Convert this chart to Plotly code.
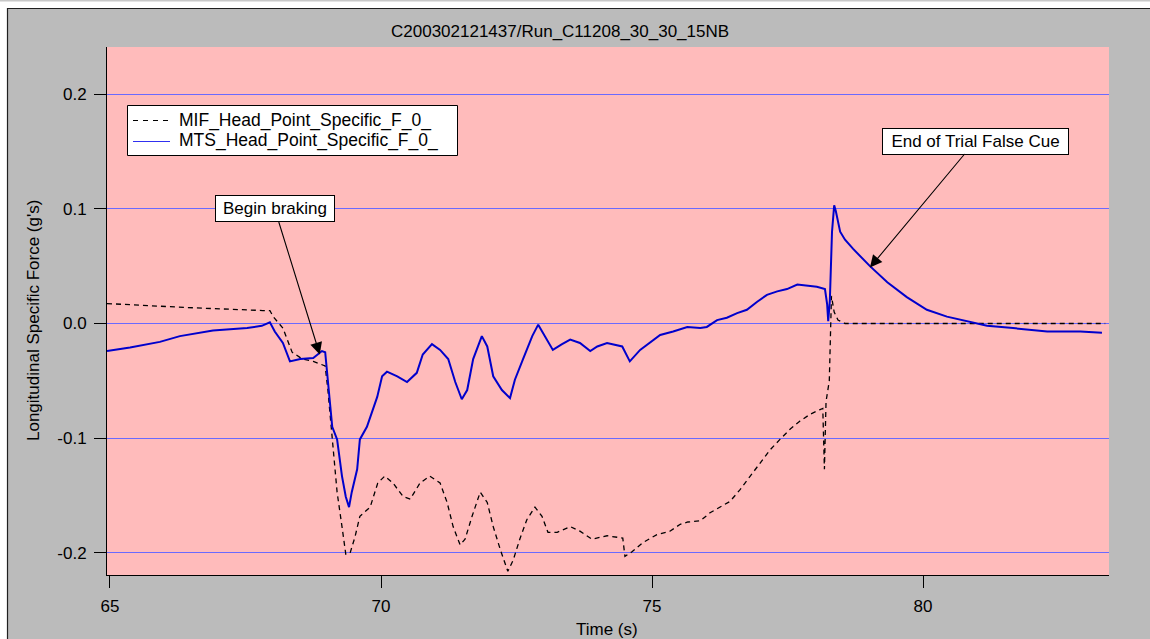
import plotly.graph_objects as go

# ---------------- data ----------------
mif_t = [64.945, 66.38, 67.82, 67.95, 68.01, 68.19, 68.36, 68.55, 68.75, 68.97, 69.02, 69.10,
         69.19, 69.28, 69.35, 69.43, 69.52, 69.61, 69.80, 69.94, 70.07, 70.22, 70.41,
         70.54, 70.72, 70.90, 71.09, 71.22, 71.33, 71.46, 71.55, 71.68, 71.83, 71.96,
         72.07, 72.20, 72.34, 72.44, 72.56, 72.69, 72.84, 72.97, 73.08, 73.25, 73.49,
         73.67, 73.89, 74.17, 74.46, 74.50, 74.63, 74.83, 75.09, 75.33, 75.52, 75.66,
         75.89, 76.07, 76.25, 76.44, 76.62, 76.81, 76.99, 77.18, 77.36, 77.55, 77.73,
         77.92, 78.10, 78.15, 78.18, 78.21, 78.27, 78.31, 78.36, 78.43, 78.56, 83.36]
mif_v = [0.0174, 0.014, 0.0113, 0.0113, 0.006, -0.004, -0.025, -0.031, -0.033, -0.037, -0.058, -0.098,
         -0.147, -0.177, -0.201, -0.200, -0.186, -0.168, -0.160, -0.139, -0.133, -0.139, -0.151,
         -0.153, -0.139, -0.133, -0.139, -0.156, -0.177, -0.193, -0.188, -0.168, -0.147, -0.156,
         -0.177, -0.197, -0.216, -0.206, -0.188, -0.171, -0.160, -0.168, -0.182, -0.182, -0.177,
         -0.181, -0.188, -0.185, -0.187, -0.203, -0.199, -0.191, -0.184, -0.181, -0.175, -0.173,
         -0.172, -0.165, -0.160, -0.155, -0.145, -0.133, -0.121, -0.110, -0.101, -0.092, -0.085,
         -0.079, -0.075, -0.074, -0.127, -0.068, -0.050, 0.024, 0.010, 0.003, 0.000, 0.000]

mts_t = [64.945, 65.37, 65.92, 66.29, 66.90, 67.53, 67.80, 67.95, 68.04, 68.19, 68.32, 68.51,
         68.75, 68.91, 68.97, 69.02, 69.10, 69.19, 69.28, 69.35, 69.41, 69.46, 69.56,
         69.61, 69.74, 69.93, 70.02, 70.11, 70.30, 70.48, 70.66, 70.77, 70.94, 71.09,
         71.24, 71.37, 71.49, 71.59, 71.70, 71.86, 71.96, 72.07, 72.23, 72.38, 72.47,
         72.62, 72.79, 72.90, 73.03, 73.17, 73.34, 73.49, 73.67, 73.86, 73.99, 74.17,
         74.45, 74.50, 74.59, 74.78, 74.96, 75.15, 75.39, 75.65, 75.89, 76.01, 76.20,
         76.38, 76.57, 76.75, 76.94, 77.12, 77.31, 77.49, 77.68, 77.86, 78.04, 78.19,
         78.23, 78.25, 78.28, 78.32, 78.36, 78.39, 78.43, 78.47, 78.56, 78.71, 79.02,
         79.34, 79.70, 80.07, 80.44, 80.81, 81.18, 81.66, 82.29, 82.90, 83.30]
mts_v = [-0.024, -0.021, -0.016, -0.011, -0.006, -0.004, -0.002, 0.001, -0.007, -0.017, -0.033, -0.031,
         -0.030, -0.024, -0.025, -0.049, -0.090, -0.101, -0.133, -0.151, -0.160, -0.147, -0.127,
         -0.101, -0.090, -0.064, -0.046, -0.042, -0.046, -0.051, -0.043, -0.027, -0.018, -0.023,
         -0.031, -0.051, -0.066, -0.058, -0.031, -0.011, -0.020, -0.046, -0.058, -0.065, -0.049,
         -0.031, -0.011, -0.001, -0.012, -0.023, -0.018, -0.014, -0.017, -0.024, -0.020, -0.017,
         -0.020, -0.025, -0.033, -0.023, -0.017, -0.010, -0.007, -0.003, -0.004, -0.003, 0.003,
         0.005, 0.009, 0.012, 0.019, 0.025, 0.028, 0.030, 0.034, 0.033, 0.032, 0.030,
         0.017, 0.002, 0.020, 0.080, 0.103, 0.098, 0.088, 0.080, 0.073, 0.065, 0.050,
         0.036, 0.023, 0.012, 0.006, 0.002, -0.002, -0.004, -0.007, -0.007, -0.008]

x_ticks = [65, 70, 75, 80]
y_ticks = [-0.2, -0.1, 0.0, 0.1, 0.2]

title_text = "C200302121437/Run_C11208_30_30_15NB"
x_title = "Time (s)"
y_title = "Longitudinal Specific Force (g's)"
mif_name = "MIF_Head_Point_Specific_F_0_"
mts_name = "MTS_Head_Point_Specific_F_0_"

# ---------------- figure ----------------
FONT = "Liberation Sans, Arial, sans-serif"
W, H = 1150, 639
L, R, T, B = 107, 41, 47, 64
PW, PH = W - L - R, H - T - B
MIF_COL, MTS_COL = "black", "#0000CC"


def px(xp):
    return (xp - L) / PW


def py(yp):
    return (H - B - yp) / PH


fig = go.Figure()
fig.add_trace(go.Scatter(x=mif_t, y=mif_v, mode="lines", name=mif_name, showlegend=False,
                         line=dict(color=MIF_COL, width=1.3, dash="5px,4px")))
fig.add_trace(go.Scatter(x=mts_t, y=mts_v, mode="lines", name=mts_name, showlegend=False,
                         line=dict(color=MTS_COL, width=2.0)))

shapes = [
    # outer frame
    dict(type="rect", xref="paper", yref="paper", x0=px(-2), x1=px(1152), y0=py(-2), y1=py(8),
         fillcolor="white", line_width=0, layer="above"),
    dict(type="rect", xref="paper", yref="paper", x0=px(-2), x1=px(1152), y0=py(-2), y1=py(1.5),
         fillcolor="#C8C8C8", line_width=0, layer="above"),
    dict(type="rect", xref="paper", yref="paper", x0=px(-2), x1=px(7), y0=py(8), y1=py(641),
         fillcolor="white", line_width=0, layer="above"),
    dict(type="line", xref="paper", yref="paper", x0=px(7), x1=px(1152), y0=py(8.5), y1=py(8.5),
         line=dict(color="#202020", width=1.2), layer="above"),
    dict(type="line", xref="paper", yref="paper", x0=px(7.5), x1=px(7.5), y0=py(8), y1=py(641),
         line=dict(color="#202020", width=1.2), layer="above"),
    # legend box and symbols
    dict(type="rect", xref="paper", yref="paper", x0=px(127.5), x1=px(457.5), y0=py(105.5), y1=py(155.5),
         fillcolor="white", line=dict(color="black", width=1), layer="above"),
    dict(type="line", xref="paper", yref="paper", x0=px(133), x1=px(170), y0=py(120.5), y1=py(120.5),
         line=dict(color=MIF_COL, width=1.2, dash="5px,5px"), layer="above"),
    dict(type="line", xref="paper", yref="paper", x0=px(133), x1=px(170), y0=py(141.5), y1=py(141.5),
         line=dict(color="#3030F0", width=1.2), layer="above"),
]

annotations = [
    dict(text=title_text, xref="paper", yref="paper", x=px(560), y=py(31),
         xanchor="center", yanchor="middle", showarrow=False,
         font=dict(family=FONT, size=17, color="black")),
    dict(text=x_title, xref="paper", yref="paper", x=px(606.5), y=py(629.5),
         xanchor="center", yanchor="middle", showarrow=False,
         font=dict(family=FONT, size=17, color="black")),
    dict(text=y_title, xref="paper", yref="paper", x=px(33), y=py(321),
         xanchor="center", yanchor="middle", showarrow=False, textangle=-90,
         font=dict(family=FONT, size=17, color="black")),
    dict(text=mif_name, xref="paper", yref="paper", x=px(177), y=py(120),
         xanchor="left", yanchor="middle", showarrow=False,
         font=dict(family=FONT, size=17.5, color="black")),
    dict(text=mts_name, xref="paper", yref="paper", x=px(177), y=py(141),
         xanchor="left", yanchor="middle", showarrow=False,
         font=dict(family=FONT, size=17.5, color="black")),
    dict(text="Begin braking", x=68.87, y=-0.027, xref="x", yref="y",
         ax=-45, ay=-145.5, showarrow=True, arrowhead=2, arrowsize=2.2, arrowwidth=1.1,
         arrowcolor="black", bgcolor="white", bordercolor="black", borderwidth=1,
         borderpad=3, width=112, font=dict(family=FONT, size=17, color="black")),
    dict(text="End of Trial False Cue", x=79.02, y=0.0488, xref="x", yref="y",
         ax=105.5, ay=-126.5, showarrow=True, arrowhead=2, arrowsize=2.2, arrowwidth=1.1,
         arrowcolor="black", bgcolor="white", bordercolor="black", borderwidth=1,
         borderpad=3, width=179, font=dict(family=FONT, size=17, color="black")),
]

grid_col = "#6A6AFF"
fig.update_layout(
    width=W, height=H,
    margin=dict(l=L, r=R, t=T, b=B),
    paper_bgcolor="#BBBBBB",
    plot_bgcolor="#FFBBBB",
    font=dict(family=FONT, size=17, color="black"),
    showlegend=False,
    xaxis=dict(range=[64.945, 83.43], tickvals=x_ticks, ticktext=[str(v) for v in x_ticks],
               showgrid=False, zeroline=False, showline=True, linecolor="black", linewidth=1,
               ticks="outside", ticklen=12, tickcolor="black", tickwidth=1,
               ticklabelstandoff=4, tickfont=dict(size=17)),
    yaxis=dict(range=[-0.2192, 0.241], tickvals=y_ticks, ticktext=[f"{v:.1f}" for v in y_ticks],
               showgrid=True, gridcolor=grid_col, gridwidth=1, zeroline=False,
               showline=True, linecolor="black", linewidth=1,
               ticks="outside", ticklen=12, tickcolor="black", tickwidth=1,
               ticklabelstandoff=4, tickfont=dict(size=17)),
    shapes=shapes,
    annotations=annotations,
)

fig.write_html("out.html")
